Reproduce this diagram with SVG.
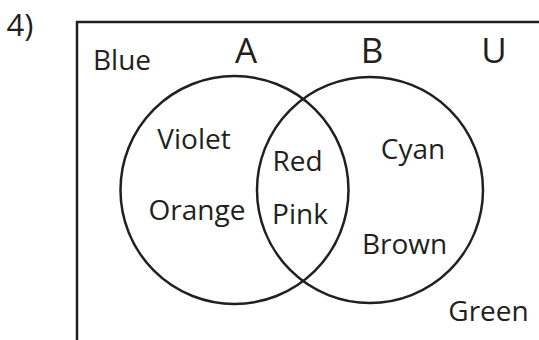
<svg xmlns="http://www.w3.org/2000/svg" width="539" height="340" viewBox="0 0 539 340">
<style>
.ln{fill:none;stroke:#231f20;stroke-width:2.5}
text{font-family:"Open Sans","Liberation Sans",sans-serif;fill:#231f20;text-anchor:middle}
.t{font-size:28px}
.s{font-size:35px}
</style>
<rect width="539" height="340" fill="#ffffff"/>
<text x="20" y="36" style="font-size:31px">4)</text>
<g id="universe">
<path class="ln" d="M77,340 V22 H539"/>
<text class="s" x="494" y="63">U</text>
<text class="t" x="122" y="69.5">Blue</text>
<text class="t" x="488.5" y="321">Green</text>
</g>
<g id="setA">
<circle class="ln" cx="234.5" cy="190" r="114"/>
<text class="s" x="246" y="63">A</text>
<text class="t" x="194" y="149">Violet</text>
<text class="t" x="197" y="220">Orange</text>
</g>
<g id="setB">
<circle class="ln" cx="370" cy="190" r="113"/>
<text class="s" x="372" y="63">B</text>
<text class="t" x="413" y="158.5">Cyan</text>
<text class="t" x="404.5" y="254">Brown</text>
</g>
<g id="intersection">
<text class="t" x="297.5" y="171">Red</text>
<text class="t" x="300" y="223.5">Pink</text>
</g>
<g id="connectors"></g>
</svg>
